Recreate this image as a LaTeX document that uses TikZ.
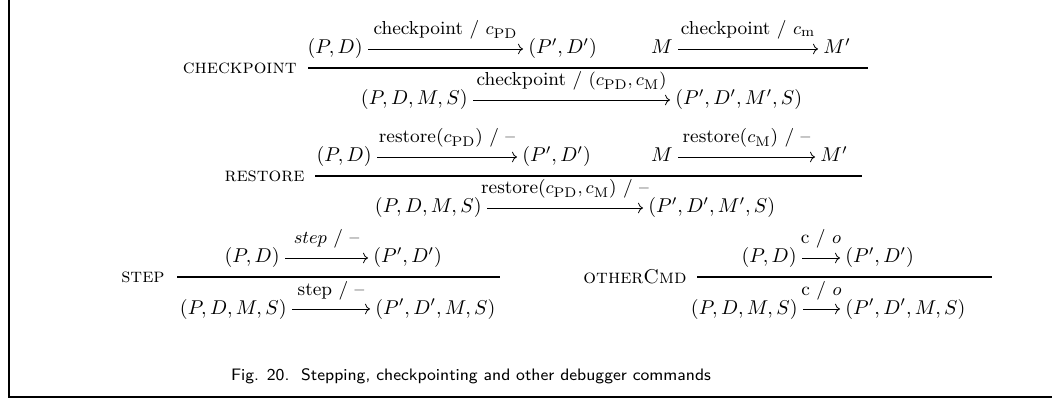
\documentclass[tikz,border=0pt]{standalone}
\usepackage{amsmath}
\usetikzlibrary{arrows.meta}
\newcommand{\mkrow}[7]{%
  \node[term, anchor=base east] (#1l) at (#2-5,#4) {#5};
  \node[term, anchor=base west] (#1r) at (#3+5,#4) {#7};
  \draw[trans] ([xshift=2.5pt,yshift=2.5pt]#1l.base east) -- ([xshift=-2.5pt,yshift=2.5pt]#1r.base west)
     node[lbl, midway, yshift=7pt] (#1t) {#6};
}
\begin{document}
\begin{tikzpicture}[x=0.5pt,y=-0.5pt,
  term/.style={inner sep=0pt, font=\fontsize{10.2}{12}\selectfont},
  lbl/.style={inner sep=0pt, anchor=base, font=\fontsize{9.4}{11}\selectfont},
  rulename/.style={inner sep=0pt, anchor=east, font=\fontsize{10}{12}\selectfont\scshape},
  trans/.style={-{Computer Modern Rightarrow}, line width=0.4pt},
  infer/.style={line width=0.55pt},
  framestyle/.style={line width=0.7pt},
  captionstyle/.style={inner sep=0pt, anchor=base, font=\sffamily\fontsize{8.3}{10}\selectfont}]
\useasboundingbox (0,0) rectangle (1052,400);
% frame
\draw[framestyle] (9,0) -- (9,397) -- (1052,397);

% CHECKPOINT
\mkrow{cpa}{368}{523}{54}{$(P, D)$}{checkpoint / $c_{\mathrm{PD}}$}{$(P', D')$}
\mkrow{cpb}{678}{818}{54}{$M$}{checkpoint / $c_{\mathrm{m}}$}{$M'$}
\draw[infer] (308,68) -- (868,68);
\node[rulename] (cpn) at (297,68) {checkpoint};
\mkrow{cpc}{473}{670}{105}{$(P, D, M, S)$}{checkpoint / $(c_{\mathrm{PD}}, c_{\mathrm{M}})$}{$(P', D', M', S)$}

% RESTORE
\mkrow{rsa}{377}{517}{162}{$(P, D)$}{restore($c_{\mathrm{PD}}$) / --}{$(P', D')$}
\mkrow{rsb}{678}{815}{162}{$M$}{restore($c_{\mathrm{M}}$) / --}{$M'$}
\draw[infer] (315,176) -- (862,176);
\node[rulename] (rsn) at (305,176) {restore};
\mkrow{rsc}{487}{643}{213}{$(P, D, M, S)$}{restore($c_{\mathrm{PD}}, c_{\mathrm{M}}$) / --}{$(P', D', M', S)$}

% STEP
\mkrow{sta}{285}{368}{263}{$(P, D)$}{$step$ / --}{$(P', D')$}
\draw[infer] (177,277) -- (500,277);
\node[rulename] (stn) at (165,277) {step};
\mkrow{stb}{292}{370}{314}{$(P, D, M, S)$}{step / --}{$(P', D', M, S)$}

% OTHERCMD
\mkrow{oca}{802}{840}{263}{$(P, D)$}{c / $o$}{$(P', D')$}
\draw[infer] (697,277) -- (992,277);
\node[rulename] (ocn) at (687,277) {otherCmd};
\mkrow{ocb}{803}{840}{314}{$(P, D, M, S)$}{c / $o$}{$(P', D', M, S)$}

% caption
\node[captionstyle] (cap) at (471,380) {Fig. 20.\ \ Stepping, checkpointing and other debugger commands};
\end{tikzpicture}
\end{document}
